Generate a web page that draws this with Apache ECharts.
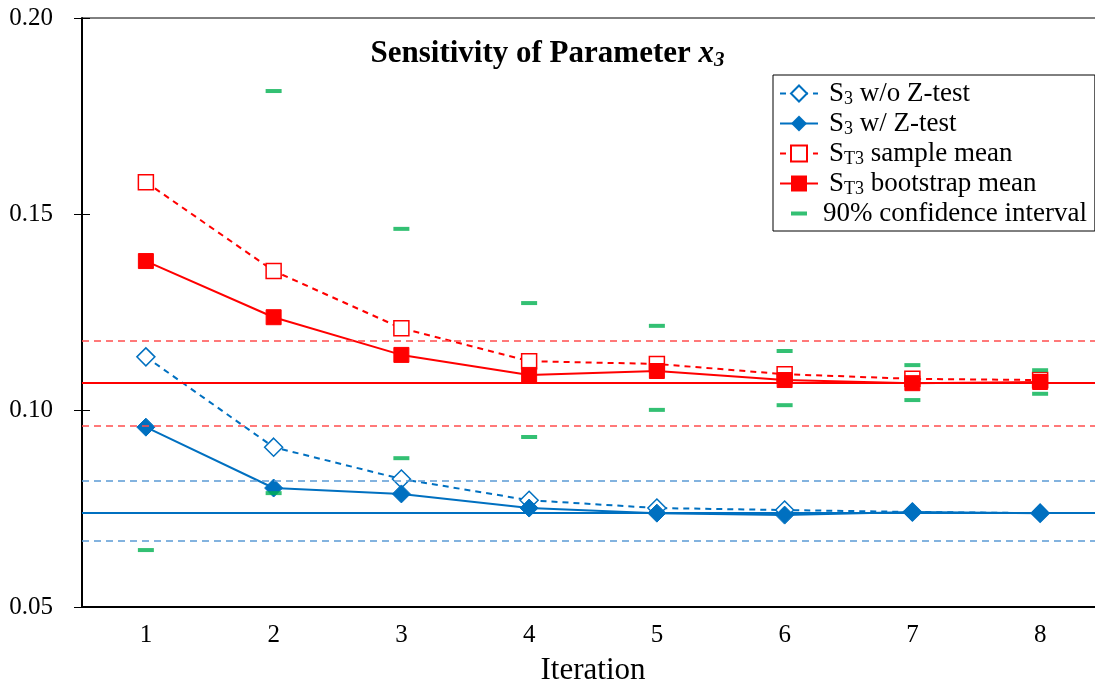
<!DOCTYPE html>
<html>
<head>
<meta charset="utf-8">
<script src="https://cdn.jsdelivr.net/npm/echarts@6/dist/echarts.min.js"></script>
<style>
  html, body { margin: 0; padding: 0; background: #fff; }
  #main { width: 1095px; height: 684px; }
</style>
</head>
<body>
<div id="main"></div>
<script>
// data
const iterations = ['1', '2', '3', '4', '5', '6', '7', '8'];
const s3NoZ = [0.1137, 0.0907, 0.0826, 0.0772, 0.0752, 0.0747, 0.0742, 0.0739];
const s3Z = [0.0958, 0.0803, 0.0788, 0.0752, 0.0739, 0.0734, 0.0742, 0.0739];
const st3Sample = [0.1582, 0.1356, 0.1210, 0.1126, 0.1119, 0.1093, 0.1081, 0.1078];
const st3Boot = [0.1381, 0.1238, 0.1142, 0.1091, 0.1101, 0.1078, 0.1070, 0.1073];
const ciUpper = [null, 0.1814, 0.1463, 0.1274, 0.1216, 0.1152, 0.1116, 0.1103];
const ciLower = [0.0645, 0.0790, 0.0879, 0.0933, 0.1002, 0.1014, 0.1027, 0.1043];
const redRef = 0.1070;
const redBand = [0.0961, 0.1177];
const blueRef = 0.0739;
const blueBand = [0.0668, 0.0821];
const yTicks = [0.05, 0.10, 0.15, 0.20];

const BLUE = '#0070c0';
const RED = '#ff0000';
const GREEN = '#00b050';
const FONT = 'Liberation Serif';

const legendNames = {
    's3noz': '{f|S}{s|3}{n| w/o Z-test}',
    's3z': '{f|S}{s|3}{n| w/ Z-test}',
    'st3s': '{f|S}{s|T3}{n| sample mean}',
    'st3b': '{f|S}{s|T3}{n| bootstrap mean}',
    'ci': '{n|90% confidence interval}'
};

let ciData = [];
iterations.forEach((it, i) => {
    if (ciUpper[i] != null) ciData.push([i, ciUpper[i]]);
    if (ciLower[i] != null) ciData.push([i, ciLower[i]]);
});

const refLine = (vals, color, type, width) => ({
    silent: true,
    symbol: 'none',
    precision: 4,
    label: { show: false },
    lineStyle: { color: color, type: type, width: width },
    data: vals.map(v => ({ yAxis: v }))
});

const myChart = echarts.init(document.getElementById('main'));
myChart.setOption({
    animation: false,
    backgroundColor: '#fff',
    textStyle: { fontFamily: FONT },
    title: {
        text: '{a|Sensitivity of Parameter }{i|x}{s|3}',
        left: 'center',
        top: 31,
        textStyle: {
            rich: {
                a: { fontFamily: FONT, fontSize: 31, fontWeight: 'bold', color: '#000' },
                i: { fontFamily: FONT, fontSize: 31, fontWeight: 'bold', fontStyle: 'italic', color: '#000' },
                s: { fontFamily: FONT, fontSize: 21, fontWeight: 'bold', fontStyle: 'italic', color: '#000', padding: [14, 0, 0, 0] }
            }
        }
    },
    legend: {
        orient: 'vertical',
        left: 773,
        top: 75,
        width: 320,
        padding: [5, 8, 4, 6],
        itemGap: 2,
        itemWidth: 38,
        itemHeight: 20,
        borderColor: '#000',
        borderWidth: 1,
        backgroundColor: '#fff',
        data: ['s3noz', 's3z', 'st3s', 'st3b', {
            name: 'ci',
            icon: 'path://M0,0 M38,20 M11,8h16v4h-16z'
        }],
        formatter: name => legendNames[name],
        textStyle: {
            rich: {
                f: { fontFamily: FONT, fontSize: 27, color: '#000', padding: [0, 0, 0, 6], lineHeight: 29 },
                n: { fontFamily: FONT, fontSize: 27, color: '#000', lineHeight: 29 },
                s: { fontFamily: FONT, fontSize: 18, color: '#000', padding: [11, 0, 0, 0] }
            }
        }
    },
    grid: {
        left: 82, width: 1022, top: 18, bottom: 77,
        outerBoundsMode: 'none',
        show: true, borderColor: '#000', borderWidth: 1
    },
    xAxis: [{
        type: 'category',
        data: iterations,
        name: 'Iteration',
        nameLocation: 'middle',
        nameGap: 48,
        nameTextStyle: { fontFamily: FONT, fontSize: 31, color: '#000' },
        axisLine: { lineStyle: { color: '#000', width: 2 } },
        axisTick: { alignWithLabel: true, length: 7, lineStyle: { color: '#555', width: 1.5 } },
        axisLabel: { fontFamily: FONT, fontSize: 25, color: '#000', margin: 16 }
    }, {
        type: 'category',
        data: iterations,
        position: 'bottom',
        axisLine: { show: false },
        axisTick: { inside: true, alignWithLabel: true, length: 7, lineStyle: { color: '#555', width: 1.5 } },
        axisLabel: { show: false }
    }],
    yAxis: [{
        type: 'value',
        min: yTicks[0],
        max: yTicks[yTicks.length - 1],
        interval: 0.05,
        splitLine: { show: false },
        axisLine: { show: true, lineStyle: { color: '#000', width: 2 } },
        axisTick: { show: true, length: 8, lineStyle: { color: '#000', width: 1 } },
        axisLabel: { fontFamily: FONT, fontSize: 25, color: '#000', margin: 29, formatter: v => v.toFixed(2) }
    }, {
        type: 'value',
        position: 'left',
        min: yTicks[0],
        max: yTicks[yTicks.length - 1],
        interval: 0.05,
        splitLine: { show: false },
        axisLine: { show: false },
        axisTick: { show: true, inside: true, length: 8, lineStyle: { color: '#000', width: 1 } },
        axisLabel: { show: false }
    }],
    series: [
        {
            name: 's3noz',
            type: 'line',
            data: s3NoZ,
            symbol: 'diamond',
            symbolSize: 18,
            lineStyle: { color: BLUE, width: 2, type: [6, 5] },
            itemStyle: { color: '#fff', borderColor: BLUE, borderWidth: 1.5 },
            markLine: refLine(blueBand, '#5b9bd5', [7, 5], 1.5),
            z: 3
        },
        {
            name: 's3z',
            type: 'line',
            data: s3Z,
            symbol: 'diamond',
            symbolSize: 18,
            lineStyle: { color: BLUE, width: 2 },
            itemStyle: { color: BLUE, borderColor: BLUE },
            markLine: refLine([blueRef], BLUE, 'solid', 2),
            z: 4
        },
        {
            name: 'st3s',
            type: 'line',
            data: st3Sample,
            symbol: 'rect',
            symbolSize: 15,
            lineStyle: { color: RED, width: 2, type: [6, 5] },
            itemStyle: { color: '#fff', borderColor: RED, borderWidth: 1.5 },
            markLine: refLine(redBand, '#ff4d4d', [7, 5], 1.5),
            z: 3
        },
        {
            name: 'st3b',
            type: 'line',
            data: st3Boot,
            symbol: 'rect',
            symbolSize: 15,
            lineStyle: { color: RED, width: 2 },
            itemStyle: { color: RED, borderColor: RED },
            markLine: refLine([redRef], RED, 'solid', 2),
            z: 4
        },
        {
            name: 'ci',
            type: 'scatter',
            data: ciData,
            symbol: 'rect',
            symbolSize: [16, 4],
            symbolKeepAspect: true,
            itemStyle: { color: GREEN },
            z: 5
        }
    ]
});
</script>
</body>
</html>
